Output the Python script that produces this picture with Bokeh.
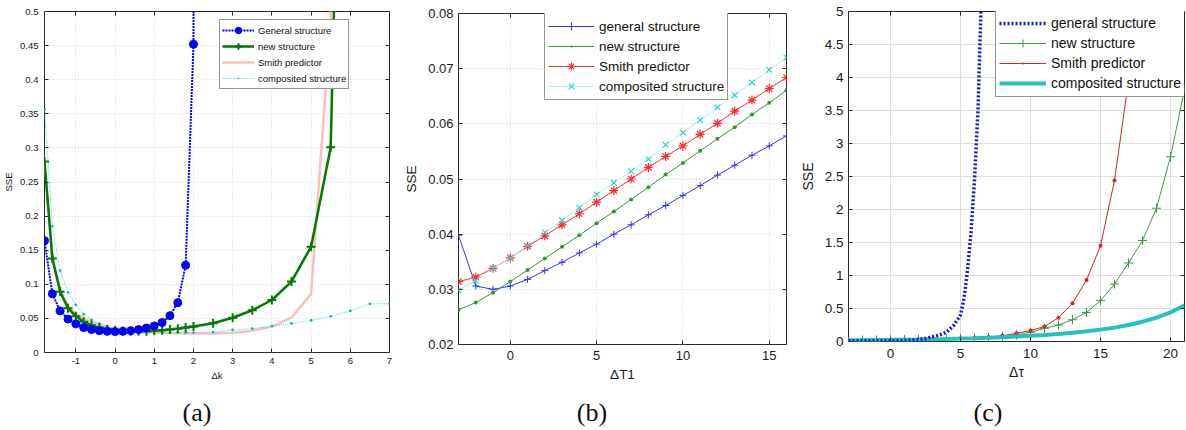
from bokeh.plotting import figure
from bokeh.layouts import row, column
from bokeh.models import Range1d, FixedTicker, LinearAxis, Legend, LegendItem, Div
from bokeh.embed import file_html
from bokeh.resources import INLINE

# ---------------- (a) SSE versus gain error ----------------
dk_fine = [-1.8, -1.6, -1.4, -1.2, -1.0, -0.8, -0.6, -0.4, -0.2, 0.0,
           0.2, 0.4, 0.6, 0.8, 1.0, 1.2, 1.4, 1.6, 1.8, 2.0]
dk_general = dk_fine + [2.2]
sse_general_a = [0.164, 0.086, 0.061, 0.049, 0.042, 0.0365, 0.0336, 0.032, 0.031, 0.0307,
                 0.031, 0.032, 0.0336, 0.036, 0.039, 0.044, 0.054, 0.073, 0.128, 0.452, 30.0]
dk_new = dk_fine + [2.5, 3.0, 3.5, 4.0, 4.5, 5.0, 5.5, 6.0]
sse_new_a = [0.280, 0.138, 0.089, 0.065, 0.053, 0.045, 0.040, 0.0365, 0.034, 0.0326,
             0.0316, 0.031, 0.031, 0.0312, 0.032, 0.0326, 0.0336, 0.035, 0.0365, 0.038,
             0.043, 0.051, 0.062, 0.077, 0.104, 0.155, 0.301, 1.5]
dk_smith = dk_new
sse_smith_a = [0.28, 0.14, 0.091, 0.069, 0.057, 0.05, 0.045, 0.041, 0.037, 0.034,
               0.032, 0.031, 0.030, 0.0295, 0.029, 0.0288, 0.0285, 0.0283, 0.028, 0.028,
               0.028, 0.029, 0.032, 0.038, 0.051, 0.086, 0.49, 3.0]
dk_comp = dk_fine + [2.5, 3.0, 3.5, 4.0, 4.5, 5.0, 5.5, 6.0, 6.5, 7.0]
sse_comp_a = [0.357, 0.185, 0.12, 0.088, 0.07, 0.056, 0.048, 0.042, 0.038, 0.035,
              0.033, 0.032, 0.031, 0.0305, 0.030, 0.0298, 0.0296, 0.0294, 0.0293, 0.0293,
              0.030, 0.033, 0.035, 0.0387, 0.0426, 0.047, 0.053, 0.061, 0.0714, 0.0714]
a_xticks = [-1, 0, 1, 2, 3, 4, 5, 6, 7]
a_xlabels = ["-1", "0", "1", "2", "3", "4", "5", "6", "7"]
a_yticks = [0, 0.05, 0.1, 0.15, 0.2, 0.25, 0.3, 0.35, 0.4, 0.45, 0.5]
a_ylabels = ["0", "0.05", "0.1", "0.15", "0.2", "0.25", "0.3", "0.35", "0.4", "0.45", "0.5"]

# ---------------- (b) SSE versus time-constant error ----------------
dT1 = [-3, -2, -1, 0, 1, 2, 3, 4, 5, 6, 7, 8, 9, 10, 11, 12, 13, 14, 15, 16]
sse_general_b = [0.0398, 0.0306, 0.0300, 0.0306, 0.0318, 0.0334, 0.0349, 0.0366, 0.0382, 0.0400,
                 0.0417, 0.0435, 0.0452, 0.0470, 0.0488, 0.0507, 0.0525, 0.0543, 0.0560, 0.0578]
sse_new_b = [0.0263, 0.0276, 0.0294, 0.0314, 0.0335, 0.0356, 0.0377, 0.0398, 0.0420, 0.0441,
             0.0463, 0.0485, 0.0508, 0.0529, 0.0551, 0.0573, 0.0594, 0.0617, 0.0638, 0.0661]
sse_smith_b = [0.0314, 0.0322, 0.0338, 0.0357, 0.0378, 0.0397, 0.0417, 0.0437, 0.0458, 0.0479,
               0.0500, 0.0521, 0.0541, 0.0560, 0.0581, 0.0601, 0.0623, 0.0643, 0.0664, 0.0684]
sse_comp_b = [0.0298, 0.0316, 0.0338, 0.0357, 0.0379, 0.0403, 0.0425, 0.0448, 0.0472, 0.0493,
              0.0514, 0.0536, 0.0562, 0.0584, 0.0607, 0.0630, 0.0652, 0.0675, 0.0698, 0.0720]
b_xticks = [0, 5, 10, 15]
b_xlabels = ["0", "5", "10", "15"]
b_yticks = [0.02, 0.03, 0.04, 0.05, 0.06, 0.07, 0.08]
b_ylabels = ["0.02", "0.03", "0.04", "0.05", "0.06", "0.07", "0.08"]

# ---------------- (c) SSE versus delay error ----------------
dtau_general = [-3, -2.5, -2, -1.5, -1, -0.5, 0, 0.5, 1, 1.5, 2, 2.5, 3, 3.5, 4, 4.5, 5,
                5.25, 5.5, 5.75, 6, 6.25, 6.5]
sse_general_c = [0.010, 0.010, 0.010, 0.011, 0.011, 0.012, 0.012, 0.014, 0.017, 0.022, 0.030,
                 0.045, 0.07, 0.10, 0.14, 0.24, 0.40, 0.65, 1.08, 1.65, 2.45, 3.5, 5.3]
dtau = [-3, -2, -1, 0, 1, 2, 3, 4, 5, 6, 7, 8, 9, 10, 11, 12, 13, 14, 15, 16, 17, 18, 19, 20, 21]
sse_new_c = [0.02, 0.022, 0.024, 0.026, 0.029, 0.032, 0.036, 0.041, 0.047, 0.055, 0.065, 0.08,
             0.1, 0.14, 0.2, 0.25, 0.33, 0.44, 0.62, 0.87, 1.19, 1.53, 2.02, 2.80, 3.82]
dtau_smith = [-3, -2, -1, 0, 1, 2, 3, 4, 5, 6, 7, 8, 9, 10, 11, 12, 13, 14, 15, 16, 17, 18]
sse_smith_c = [0.02, 0.022, 0.024, 0.026, 0.029, 0.032, 0.036, 0.041, 0.048, 0.057, 0.07,
               0.087, 0.125, 0.166, 0.227, 0.36, 0.58, 0.93, 1.45, 2.44, 3.95, 6.4]
sse_comp_c = [0.02, 0.021, 0.023, 0.025, 0.028, 0.031, 0.035, 0.039, 0.044, 0.05, 0.057, 0.065,
              0.075, 0.087, 0.10, 0.115, 0.133, 0.155, 0.18, 0.21, 0.25, 0.30, 0.36, 0.44, 0.55]
c_xticks = [0, 5, 10, 15, 20]
c_xlabels = ["0", "5", "10", "15", "20"]
c_yticks = [0, 0.5, 1, 1.5, 2, 2.5, 3, 3.5, 4, 4.5, 5]
c_ylabels = ["0", "0.5", "1", "1.5", "2", "2.5", "3", "3.5", "4", "4.5", "5"]

FONT = "Liberation Sans"
PLOT_H = 392


def make_panel(width, borders, xr, yr, xticks, xlabels, yticks, ylabels,
               tick_size, label_size, xlabel, x_std, y_std, xl_std, yl_std,
               grid_color, grid_dash):
    left, right, top, bottom = borders
    p = figure(width=width, height=PLOT_H, x_range=Range1d(*xr), y_range=Range1d(*yr),
               output_backend="svg", toolbar_location=None, frame_align=False,
               min_border_left=left, min_border_right=right,
               min_border_top=top, min_border_bottom=bottom, margin=0)
    p.outline_line_color = "#2a2a2a"
    p.outline_line_width = 1
    p.background_fill_color = "white"
    p.border_fill_color = "white"

    p.xaxis.ticker = FixedTicker(ticks=xticks)
    p.xaxis.major_label_overrides = dict(zip(xticks, xlabels))
    p.yaxis.ticker = FixedTicker(ticks=yticks)
    p.yaxis.major_label_overrides = dict(zip(yticks, ylabels))
    p.xaxis.axis_label = xlabel
    p.yaxis.axis_label = "SSE"
    p.xaxis.major_label_standoff = x_std
    p.yaxis.major_label_standoff = y_std
    p.xaxis.axis_label_standoff = xl_std
    p.yaxis.axis_label_standoff = yl_std
    for ax in (p.xaxis[0], p.yaxis[0]):
        ax.major_tick_in = 4
        ax.major_tick_out = 0
        ax.major_tick_line_color = "#2a2a2a"
        ax.minor_tick_line_color = None
        ax.axis_line_color = None
        ax.major_label_text_font = FONT
        ax.major_label_text_font_size = tick_size
        ax.major_label_text_color = "#1a1a1a"
        ax.axis_label_text_font = FONT
        ax.axis_label_text_font_size = label_size
        ax.axis_label_text_font_style = "normal"
        ax.axis_label_text_color = "#1a1a1a"

    # tick marks on the opposite edges of the box (no labels there)
    for side, ticks in (("above", xticks), ("right", yticks)):
        ax = LinearAxis(ticker=FixedTicker(ticks=ticks), major_label_text_font_size="1px",
                        major_label_text_color=None, major_label_standoff=0,
                        major_tick_in=4, major_tick_out=0, major_tick_line_color="#2a2a2a",
                        minor_tick_line_color=None, axis_line_color=None)
        p.add_layout(ax, side)

    p.xgrid.ticker = FixedTicker(ticks=xticks)
    p.ygrid.ticker = FixedTicker(ticks=yticks)
    p.grid.grid_line_color = grid_color
    p.grid.grid_line_width = 1
    if grid_dash:
        p.grid.grid_line_dash = grid_dash
    return p


def add_legend(p, items, loc, font_size, glyph_w, item_h, padding, standoff):
    leg = Legend(items=[LegendItem(label=lab, renderers=rs) for lab, rs in items],
                 location=loc, orientation="vertical")
    leg.label_text_font = FONT
    leg.label_text_font_size = font_size
    leg.label_text_color = "#111111"
    leg.glyph_width = glyph_w
    leg.glyph_height = item_h
    leg.label_height = item_h
    leg.label_standoff = standoff
    leg.spacing = 0
    leg.padding = padding
    leg.margin = 0
    leg.border_line_color = "#2a2a2a"
    leg.border_line_width = 1
    leg.background_fill_color = "white"
    leg.background_fill_alpha = 1
    p.add_layout(leg)


def caption(text, width):
    html = ('<div style="width:%dpx;text-align:center;font-family:\'Liberation Serif\';'
            'font-size:26px;line-height:30px;margin-top:6px;color:#111111;">%s</div>'
            % (width, text))
    return Div(text=html, width=width, height=430 - PLOT_H, margin=0)


# ---------- panel (a) ----------
pa = make_panel(400, (44, 11, 11, PLOT_H - 352), (-1.8, 7), (0, 0.5),
                a_xticks, a_xlabels, a_yticks, a_ylabels,
                "9.5px", "9.5px", "Δk", 5, 6, 3, 3, "#d9d9d9", "1 2")
pink_l = pa.line(dk_smith, sse_smith_a, line_color="#ffbdbd", line_width=2.5)
comp_l = pa.line(dk_comp, sse_comp_a, line_color="#3fe0e0", line_width=1, line_dash="1 1")
comp_m = pa.scatter(dk_comp, sse_comp_a, marker="dot", size=11, fill_color="#14b4b4",
                    line_color="#14b4b4")
new_l = pa.line(dk_new, sse_new_a, line_color="#007a00", line_width=2.5)
new_m = pa.scatter(dk_new, sse_new_a, marker="cross", size=9, line_color="#007a00", line_width=2)
gen_l = pa.line(dk_general, sse_general_a, line_color="#0000ff", line_width=2, line_dash="2 1")
gen_m = pa.scatter(dk_general, sse_general_a, marker="circle", size=8, fill_color="#0000ff",
                   line_color="#0000ff")
add_legend(pa, [("General structure", [gen_l, gen_m]), ("new structure", [new_l, new_m]),
                ("Smith predictor", [pink_l]), ("composited structure", [comp_l, comp_m])],
           (175, 263), "9.5px", 32, 16, 2, 4)

# ---------- panel (b) ----------
pb = make_panel(390, (58, 4, 13, PLOT_H - 344), (-3, 16), (0.02, 0.08),
                b_xticks, b_xlabels, b_yticks, b_ylabels,
                "13px", "13.5px", "ΔT1", 6, 5, 4, 6, "#d4d4d4", "1 2")
gb_l = pb.line(dT1, sse_general_b, line_color="#3434ff", line_width=1)
gb_m = pb.scatter(dT1, sse_general_b, marker="cross", size=7, line_color="#3434ff", line_width=1)
nb_l = pb.line(dT1, sse_new_b, line_color="#2f9a2f", line_width=1)
nb_m = pb.scatter(dT1, sse_new_b, marker="dot", size=16, line_color="#2f9a2f",
                  fill_color="#2f9a2f")
sb_l = pb.line(dT1, sse_smith_b, line_color="#ff2b2b", line_width=1)
sb_m = pb.scatter(dT1, sse_smith_b, marker="asterisk", size=9, line_color="#ff2b2b", line_width=1.2)
cb_l = pb.line(dT1, sse_comp_b, line_color="#a8f2f2", line_width=1)
cb_m = pb.scatter(dT1, sse_comp_b, marker="x", size=8, line_color="#2fcfcf", line_width=1.2)
add_legend(pb, [("general structure", [gb_l, gb_m]), ("new structure", [nb_l, nb_m]),
                ("Smith predictor", [sb_l, sb_m]), ("composited structure", [cb_l, cb_m])],
           (86, 244), "13.5px", 46, 20, 3, 5)

# ---------- panel (c) ----------
pc = make_panel(396, (58, 2, 11, PLOT_H - 341), (-3, 21), (0, 5),
                c_xticks, c_xlabels, c_yticks, c_ylabels,
                "13.5px", "14px", "Δτ", 7, 5, 3, 6, "#dedede", None)
nc_l = pc.line(dtau, sse_new_c, line_color="#3f9a3f", line_width=1)
nc_m = pc.scatter(dtau, sse_new_c, marker="cross", size=9, line_color="#3f9a3f", line_width=1)
sc_l = pc.line(dtau_smith, sse_smith_c, line_color="#d42424", line_width=1)
sc_m = pc.scatter(dtau_smith, sse_smith_c, marker="dot", size=16, line_color="#d42424",
                  fill_color="#d42424")
cc_l = pc.line(dtau, sse_comp_c, line_color="#22c2c2", line_width=4)
gc_l = pc.line(dtau_general, sse_general_c, line_color="#1a1acc", line_width=3.5, line_dash="2 2")
add_legend(pc, [("general structure", [gc_l]), ("new structure", [nc_l, nc_m]),
                ("Smith predictor", [sc_l, sc_m]), ("composited structure", [cc_l])],
           (147, 244), "14px", 47, 20, 3, 5)

layout = row(column(pa, caption("(a)", 394), spacing=0),
             column(pb, caption("(b)", 384), spacing=0),
             column(pc, caption("(c)", 396), spacing=0), spacing=0)
open("out.html", "w").write(file_html(layout, INLINE))
